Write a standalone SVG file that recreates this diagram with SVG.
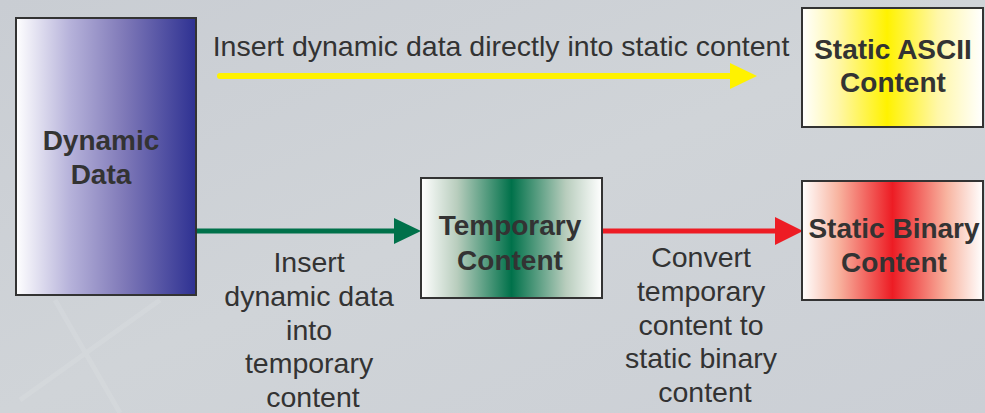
<svg xmlns="http://www.w3.org/2000/svg" width="985" height="413" viewBox="0 0 985 413">
  <defs>
    <linearGradient id="bg" x1="0" y1="0" x2="1" y2="1">
      <stop offset="0" stop-color="#c9cdd3"/>
      <stop offset="0.5" stop-color="#d0d4d8"/>
      <stop offset="1" stop-color="#cbcfd5"/>
    </linearGradient>
    <linearGradient id="gBlue" x1="0" y1="0" x2="1" y2="0">
      <stop offset="0" stop-color="#ffffff"/>
      <stop offset="0.3" stop-color="#b6b2da"/>
      <stop offset="0.6" stop-color="#7f79b8"/>
      <stop offset="1" stop-color="#2e3192"/>
    </linearGradient>
    <linearGradient id="gYellow" x1="0" y1="0" x2="1" y2="0">
      <stop offset="0" stop-color="#ffffff"/>
      <stop offset="0.2" stop-color="#fff7a8"/>
      <stop offset="0.47" stop-color="#fff200"/>
      <stop offset="0.75" stop-color="#fff7a8"/>
      <stop offset="1" stop-color="#ffffff"/>
    </linearGradient>
    <linearGradient id="gGreen" x1="0" y1="0" x2="1" y2="0">
      <stop offset="0" stop-color="#ffffff"/>
      <stop offset="0.2" stop-color="#b8cdbd"/>
      <stop offset="0.5" stop-color="#00714a"/>
      <stop offset="0.8" stop-color="#b8cdbd"/>
      <stop offset="1" stop-color="#ffffff"/>
    </linearGradient>
    <linearGradient id="gRed" x1="0" y1="0" x2="1" y2="0">
      <stop offset="0" stop-color="#ffffff"/>
      <stop offset="0.2" stop-color="#f8b4a0"/>
      <stop offset="0.5" stop-color="#ed1c24"/>
      <stop offset="0.8" stop-color="#f8b4a0"/>
      <stop offset="1" stop-color="#ffffff"/>
    </linearGradient>
    <style>
      .box { stroke: #333333; stroke-width: 2; }
      .title { font-family: "Liberation Sans", Arial, sans-serif; font-weight: bold; font-size: 28px; fill: #333333; text-anchor: middle; }
      .label { font-family: "Liberation Sans", Arial, sans-serif; font-size: 28.5px; fill: #333333; text-anchor: middle; }
    </style>
  </defs>
  <rect width="985" height="413" fill="url(#bg)"/>
  <g opacity="0.15" stroke="#eef0f2" stroke-width="5" fill="none">
    <path d="M20 400 L160 300"/>
    <path d="M55 300 L120 413"/>
  </g>

  <g id="connectors">
    <g id="edge-yellow">
      <line x1="220" y1="76" x2="732" y2="76" stroke="#fff200" stroke-width="6" stroke-linecap="round"/>
      <polygon points="730,63 757,76 730,89" fill="#fff200"/>
    </g>
    <g id="edge-green">
      <line x1="195" y1="231" x2="396" y2="231" stroke="#00714a" stroke-width="5" stroke-linecap="round"/>
      <polygon points="394,218 421,231 394,244" fill="#00714a"/>
    </g>
    <g id="edge-red">
      <line x1="599" y1="231" x2="777" y2="231" stroke="#ed1c24" stroke-width="5" stroke-linecap="round"/>
      <polygon points="775,217 803,231 775,245" fill="#ed1c24"/>
    </g>
    <text class="label" x="501" y="56">Insert dynamic data directly into static content</text>
    <text class="label" x="313">
      <tspan x="313" y="272">Insert</tspan>
      <tspan x="313" y="306">dynamic data</tspan>
      <tspan x="313" y="340">into</tspan>
      <tspan x="313" y="373">temporary</tspan>
      <tspan x="313" y="407">content</tspan>
    </text>
    <text class="label" x="705">
      <tspan x="705" y="267">Convert</tspan>
      <tspan x="705" y="301">temporary</tspan>
      <tspan x="705" y="335">content to</tspan>
      <tspan x="705" y="368">static binary</tspan>
      <tspan x="705" y="402">content</tspan>
    </text>
  </g>

  <g id="dynamic-data">
    <rect class="box" x="16" y="18" width="180" height="277" fill="url(#gBlue)"/>
    <text class="title"><tspan x="101" y="150">Dynamic</tspan><tspan x="101" y="184">Data</tspan></text>
  </g>

  <g id="static-ascii">
    <rect class="box" x="802" y="8" width="181" height="119" fill="url(#gYellow)"/>
    <text class="title"><tspan x="893" y="59">Static ASCII</tspan><tspan x="893" y="92">Content</tspan></text>
  </g>

  <g id="temporary-content">
    <rect class="box" x="421" y="178" width="181" height="120" fill="url(#gGreen)"/>
    <text class="title"><tspan x="510" y="235">Temporary</tspan><tspan x="510" y="270">Content</tspan></text>
  </g>

  <g id="static-binary">
    <rect class="box" x="802" y="181" width="181" height="119" fill="url(#gRed)"/>
    <text class="title"><tspan x="894" y="238">Static Binary</tspan><tspan x="894" y="272">Content</tspan></text>
  </g>
</svg>
